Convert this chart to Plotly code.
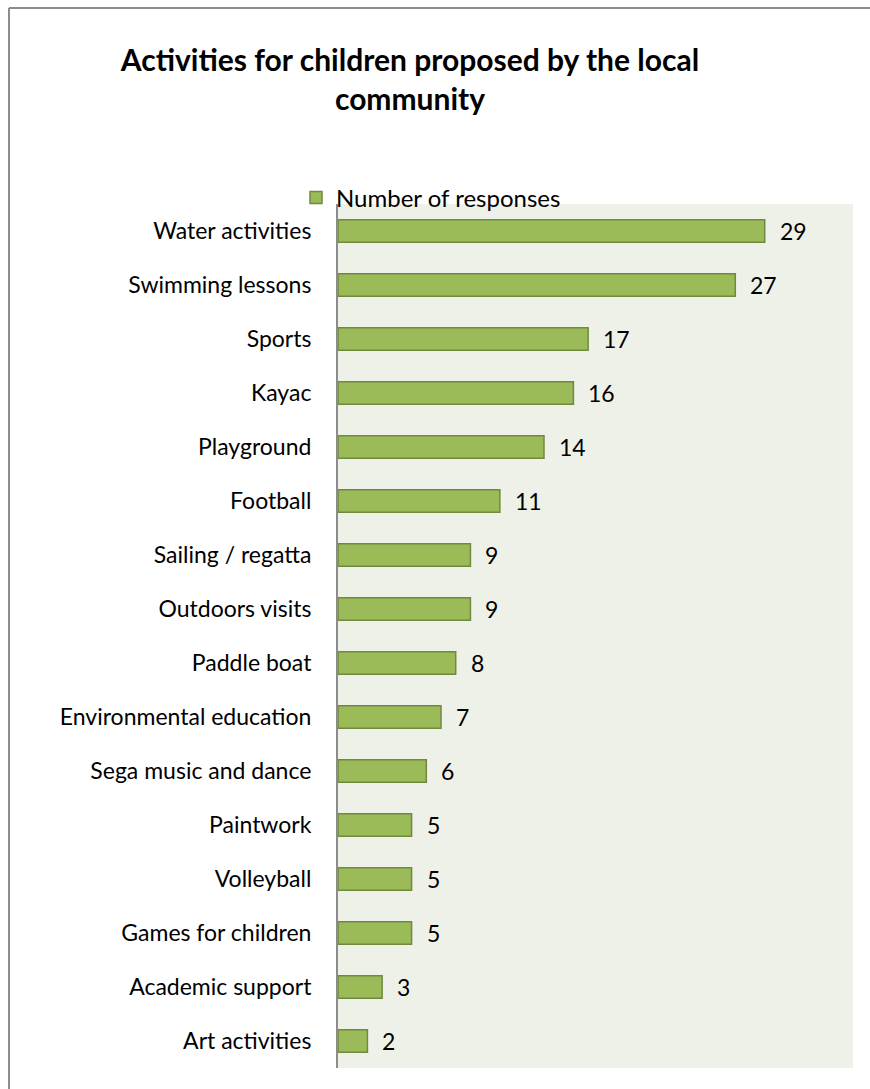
import plotly.graph_objects as go

# Survey results: activities for children proposed by the local community
activities = [
    "Water activities", "Swimming lessons", "Sports", "Kayac", "Playground",
    "Football", "Sailing / regatta", "Outdoors visits", "Paddle boat",
    "Environmental education", "Sega music and dance", "Paintwork",
    "Volleyball", "Games for children", "Academic support", "Art activities",
]
responses = [29, 27, 17, 16, 14, 11, 9, 9, 8, 7, 6, 5, 5, 5, 3, 2]

series_name = "Number of responses"
title_lines = ["Activities for children proposed by the local", "community"]

FONT = "Lato"
BAR_FILL = "#9BBB59"
BAR_EDGE = "#71893F"
PLOT_BG = "#EEF1E8"
AXIS_GRAY = "#8C8C8C"

W, H = 870, 1089
ML, MR, MT, MB = 338, 17, 204, 21
pw, ph = W - ML - MR, H - MT - MB

fig = go.Figure()
fig.add_trace(go.Bar(
    x=responses,
    y=activities,
    orientation="h",
    name=series_name,
    width=0.42,
    marker=dict(color=BAR_FILL, line=dict(color=BAR_EDGE, width=1.5)),
    showlegend=True,
))

# value labels to the right of each bar
for a, v in zip(activities, responses):
    fig.add_annotation(
        x=v, y=a, xref="x", yref="y", text=str(v), showarrow=False,
        xanchor="left", yanchor="middle", xshift=13,
        font=dict(family=FONT, size=23, color="#000000"),
    )

# chart frame (left and top edges)
fx0 = (9 - ML) / pw
fy1 = (H - MB - 8) / ph
fig.add_shape(type="line", xref="paper", yref="paper", x0=fx0, x1=fx0,
              y0=-0.1, y1=fy1, line=dict(color=AXIS_GRAY, width=2))
fig.add_shape(type="line", xref="paper", yref="paper", x0=fx0, x1=1.2,
              y0=fy1, y1=fy1, line=dict(color=AXIS_GRAY, width=2))

fig.update_layout(
    width=W, height=H,
    margin=dict(l=ML, r=MR, t=MT, b=MB),
    paper_bgcolor="#FFFFFF",
    plot_bgcolor=PLOT_BG,
    font=dict(family=FONT, size=23, color="#000000"),
    title=dict(
        text="<br>".join(title_lines),
        x=410 / W, xref="container", xanchor="center",
        y=1 - 71 / H, yref="container", yanchor="top",
        font=dict(family=FONT, size=30, color="#000000", weight="bold"),
    ),
    legend=dict(
        x=(296 - ML) / pw, xanchor="left",
        y=(H - MB - 198) / ph, yanchor="middle",
        bgcolor="rgba(0,0,0,0)",
        font=dict(family=FONT, size=24),
    ),
    xaxis=dict(
        range=[0, 35], showgrid=False, zeroline=False, showticklabels=False,
        ticks="", showline=False,
    ),
    yaxis=dict(
        categoryorder="array", categoryarray=activities, autorange="reversed",
        showgrid=False, zeroline=False, ticks="",
        showline=True, linecolor=AXIS_GRAY, linewidth=2,
        ticklabelstandoff=20,
        tickfont=dict(family=FONT, size=23),
    ),
    bargap=0.58,
)

fig.write_html("out.html")
